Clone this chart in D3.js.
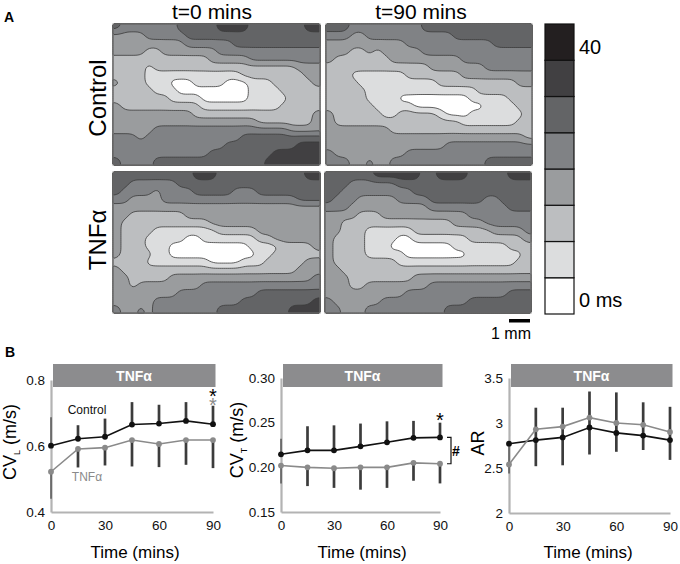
<!DOCTYPE html>
<html>
<head>
<meta charset="utf-8">
<script src="https://cdn.jsdelivr.net/npm/d3@7"></script>
<style>
  body { margin: 0; background: #fff; }
  text { font-family: "Liberation Sans", Arial, sans-serif; }
</style>
</head>
<body>
<div id="chart"></div>
<script>
// activation maps: each digit is the 5 ms band of one electrode (0 = 0-5 ms ... 7 = 35-40 ms)
const mapControl0 = [
  "54444444555556666555555566",
  "33334444455555555555555555",
  "33333333344444455555555555",
  "33332233333334444444444444",
  "22222222222233333444444444",
  "22221222222222222222222333",
  "22221111111111112222222233",
  "32221110001111000111222223",
  "22222111000000000111122222",
  "22222221111000000111112222",
  "32222222222111111111122222",
  "33333333332222222222222223",
  "33333333333333333322222223",
  "33333444444444444444443333",
  "44434444444444445555555555",
  "44444444444444555555555666",
  "44444444444455555555666666",
  "54444555555555555556666666"
];
const mapControl90 = [
  "55544444444455555555555555",
  "44433444444444445555555555",
  "33333333334444444444455555",
  "33322323333344444444444444",
  "32222222333333333444444444",
  "22222222222223333333444444",
  "22211111112222222333333333",
  "22221111111111222222222233",
  "22222111111111111112222222",
  "22222111100000000011111222",
  "22222211111000000000111122",
  "32222221122222100011111112",
  "32222222222222222111111122",
  "33333333222222222222222222",
  "33333333333333333333333332",
  "33333333333333344444444444",
  "43333333334444444444444444",
  "44433433444444444444555555"
];
const mapTnf0 = [
  "55555555556665555555555566",
  "55444444555555555555555555",
  "54444344445555544455555555",
  "44333344444444444444444555",
  "33333333333333333333333333",
  "33222222233333333333333333",
  "32222222222233333333333333",
  "32222111111112222233333333",
  "32221111100111111122333333",
  "32221110000000000111122223",
  "32222110000000000011222222",
  "22221111111100001112222233",
  "32222222222222222222222333",
  "33222223333333333333333334",
  "33233333333444444444444444",
  "33333333444444444455555555",
  "33333444444444445555555556",
  "43343444444445555555556666"
];
const mapTnf90 = [
  "55555566666655666655555666",
  "55544444455555555555555555",
  "55444444444555555555555555",
  "54443333344445555555445555",
  "44433333333334444444444555",
  "33332223333333333344444444",
  "33222222222222223333444444",
  "33222111111222222222233334",
  "32222111100111111122222223",
  "32222111000000001111111222",
  "32222111110000000011111112",
  "32222222211111111111111122",
  "33222222222222222222222222",
  "33322222222333333333333333",
  "33322333333334444444444444",
  "33333333334444444444444555",
  "43333334444444444455555555",
  "44333444444444455555555555"
];
const bandColors = ["#ffffff", "#dcddde", "#bcbec0", "#9a9c9e", "#808285", "#636466", "#414042", "#231f20"];
const bandStart = [0, 5, 10, 15, 20, 25, 30, 35];

// conduction velocity time courses
const minutes = [0, 15, 30, 45, 60, 75, 90];

const cvlControl = [0.601, 0.622, 0.628, 0.665, 0.668, 0.676, 0.666];
const cvlTnf = [0.522, 0.591, 0.595, 0.618, 0.606, 0.618, 0.618];
const cvlHigh = [0.687, 0.663, 0.683, 0.733, 0.725, 0.733, 0.722];
const cvlLow = [0.44, 0.535, 0.541, 0.538, 0.536, 0.543, 0.533];

const cvtControl = [0.2146, 0.219, 0.219, 0.2235, 0.228, 0.233, 0.2335];
const cvtTnf = [0.202, 0.2, 0.199, 0.2, 0.2, 0.205, 0.204];
const cvtHigh = [0.232, 0.246, 0.247, 0.249, 0.2515, 0.252, 0.25];
const cvtLow = [0.182, 0.179, 0.177, 0.175, 0.177, 0.185, 0.182];

const arControl = [2.77, 2.81, 2.84, 2.95, 2.89, 2.86, 2.81];
const arTnf = [2.54, 2.93, 2.96, 3.06, 3.0, 2.98, 2.9];
const arHigh = [2.77, 3.17, 3.17, 3.35, 3.34, 3.23, 3.18];
const arLow = [2.44, 2.52, 2.53, 2.65, 2.68, 2.7, 2.59];

const xTicks = [0, 30, 60, 90];
const cvlTicks = [0.4, 0.6, 0.8];
const cvtTicks = [0.15, 0.2, 0.25, 0.3];
const arTicks = [2, 2.5, 3, 3.5];

const svg = d3.select("#chart")
  .append("svg")
    .attr("width", 680)
    .attr("height", 564);

// --- panel A ---
function drawMap(rows, left, top, width, height) {
  // resample each electrode to a 4x4 patch and blur so the isochrones run diagonally
  const k = 4;
  const nx = rows[0].length * k, ny = rows.length * k;
  const values = new Float64Array(nx * ny);
  for (let j = 0; j < ny; j++) {
    for (let i = 0; i < nx; i++) {
      values[j * nx + i] = bandStart[+rows[Math.floor(j / k)][Math.floor(i / k)]] + 2.5;
    }
  }
  d3.blur2({data: values, width: nx, height: ny}, 1.5);

  const sx = d3.scaleLinear().domain([0, nx]).range([0, width]);
  const sy = d3.scaleLinear().domain([0, ny]).range([0, height]);
  const path = d3.geoPath(d3.geoTransform({
    point: function(x, y) { this.stream.point(sx(x), sy(y)); }
  }));
  const contours = d3.contours().size([nx, ny]).thresholds(bandStart.slice(1))(values);

  const g = svg.append("g").attr("transform", `translate(${left},${top})`);
  g.append("rect").attr("width", width).attr("height", height).attr("fill", bandColors[0]);
  g.selectAll("path")
    .data(contours)
    .join("path")
      .attr("d", path)
      .attr("fill", (d, i) => bandColors[i + 1])
      .attr("stroke", "#3a3a3a")
      .attr("stroke-width", 0.8)
      .attr("stroke-linejoin", "round");
  g.append("rect")
    .attr("width", width).attr("height", height)
    .attr("fill", "none").attr("stroke", "#777").attr("stroke-width", 1);
}

drawMap(mapControl0, 113, 24, 207, 141);
drawMap(mapControl90, 326, 24, 206, 141);
drawMap(mapTnf0, 113, 172, 207, 141);
drawMap(mapTnf90, 325, 172, 206, 141);

svg.append("text").attr("x", 212).attr("y", 19).attr("text-anchor", "middle").attr("font-size", 21).text("t=0 mins");
svg.append("text").attr("x", 421).attr("y", 19).attr("text-anchor", "middle").attr("font-size", 21).text("t=90 mins");
svg.append("text").attr("transform", "translate(106,98)rotate(-90)").attr("text-anchor", "middle").attr("font-size", 24).text("Control");
svg.append("text").attr("transform", "translate(106,240)rotate(-90)").attr("text-anchor", "middle").attr("font-size", 24).text("TNFα");
svg.append("text").attr("x", 4).attr("y", 22).attr("font-size", 14).attr("font-weight", "bold").text("A");
svg.append("text").attr("x", 5).attr("y", 357).attr("font-size", 14).attr("font-weight", "bold").text("B");

// colour key, darkest cell on top
const keyY = d3.scaleBand().domain(d3.range(8).reverse()).range([24, 314]);
svg.append("g").selectAll("rect")
  .data(d3.range(8))
  .join("rect")
    .attr("x", 545)
    .attr("y", d => keyY(d))
    .attr("width", 29)
    .attr("height", keyY.bandwidth())
    .attr("fill", d => bandColors[d])
    .attr("stroke", "#111")
    .attr("stroke-width", 1.2);
svg.append("text").attr("x", 579).attr("y", 54).attr("font-size", 20).text("40");
svg.append("text").attr("x", 579).attr("y", 307).attr("font-size", 20).text("0 ms");

// scale bar
svg.append("rect").attr("x", 509).attr("y", 319).attr("width", 21).attr("height", 3.5).attr("fill", "#000");
svg.append("text").attr("x", 511).attr("y", 339).attr("text-anchor", "middle").attr("font-size", 16).text("1 mm");

// --- panel B ---
function drawCourse(opt) {
  const x = d3.scaleLinear().domain([0, 90]).range(opt.xRange);
  const y = d3.scaleLinear().domain(opt.yDomain).range(opt.yRange);
  const g = svg.append("g");

  // TNF bar
  g.append("rect")
    .attr("x", opt.xRange[0] + 2).attr("y", 364)
    .attr("width", opt.xRange[1] - opt.xRange[0] + 0.5).attr("height", 23)
    .attr("fill", "#8c8c8e");
  g.append("text")
    .attr("x", (opt.xRange[0] + opt.xRange[1]) / 2 + 2).attr("y", 381)
    .attr("text-anchor", "middle").attr("font-size", 14).attr("font-weight", "bold")
    .attr("fill", "#fff").text("TNFα");

  // axes
  const axisBase = opt.yRange[0];
  const ax = g.append("g")
    .attr("transform", `translate(0,${axisBase})`)
    .call(d3.axisBottom(x).tickValues(xTicks).tickSize(0).tickPadding(8).tickFormat(d3.format("d")));
  const ay = g.append("g")
    .attr("transform", `translate(${opt.xRange[0]},0)`)
    .call(d3.axisLeft(y).tickValues(opt.yTicks).tickSize(0).tickPadding(6).tickFormat(opt.yFormat));
  [ax, ay].forEach(a => {
    a.select(".domain").attr("stroke", "#b3b3b3").attr("stroke-width", 2.2);
    a.selectAll("text").attr("font-size", 13.5).attr("font-family", "Liberation Sans").attr("fill", "#111");
  });

  // error bars: upper half from one mean, lower half from the other, thin at t=0
  const barWidth = d => d === 0 ? 1.2 : 2.7;
  g.selectAll(".up").data(minutes).join("line").attr("class", "up")
    .attr("x1", d => x(d)).attr("x2", d => x(d))
    .attr("y1", (d, i) => y(opt.upFrom[i])).attr("y2", (d, i) => y(opt.high[i]))
    .attr("stroke", "#3c3c3c").attr("stroke-width", barWidth);
  g.selectAll(".down").data(minutes).join("line").attr("class", "down")
    .attr("x1", d => x(d)).attr("x2", d => x(d))
    .attr("y1", (d, i) => y(opt.downFrom[i])).attr("y2", (d, i) => y(opt.low[i]))
    .attr("stroke", "#3c3c3c").attr("stroke-width", barWidth);

  // series
  const line = d3.line().x(d => x(d[0])).y(d => y(d[1]));
  const series = opt.order.map(s => s === "control"
    ? {vals: opt.control, color: "#111"}
    : {vals: opt.tnf, color: "#8a8a8a"});
  series.forEach(s => {
    const pts = d3.zip(minutes, s.vals);
    g.append("path").datum(pts).attr("d", line)
      .attr("fill", "none").attr("stroke", s.color).attr("stroke-width", 1.6);
    g.selectAll(null).data(pts).join("circle")
      .attr("cx", d => x(d[0])).attr("cy", d => y(d[1])).attr("r", 2.9)
      .attr("fill", s.color);
  });

  // labels
  g.append("text")
    .attr("x", opt.timeX).attr("y", 558)
    .attr("text-anchor", "middle").attr("font-size", 17).text("Time (mins)");
  const yl = g.append("text")
    .attr("transform", `translate(${opt.labelX},${opt.labelY})rotate(-90)`)
    .attr("text-anchor", "middle").attr("font-size", 18);
  if (opt.sub) {
    yl.append("tspan").text("CV");
    yl.append("tspan").attr("font-size", 9).attr("dy", 4).text(opt.sub);
    yl.append("tspan").attr("dy", -4).text(" (m/s)");
  } else {
    yl.text("AR");
  }
  return {x, y};
}

const c1 = drawCourse({
  xRange: [51, 213], yDomain: [0.4, 0.8], yRange: [512, 380],
  yTicks: cvlTicks, yFormat: d3.format(".1f"),
  control: cvlControl, tnf: cvlTnf, high: cvlHigh, low: cvlLow,
  upFrom: cvlControl, downFrom: cvlTnf, order: ["tnf", "control"],
  timeX: 135, labelX: 16, labelY: 442, sub: "L"
});
const c2 = drawCourse({
  xRange: [281, 440], yDomain: [0.15, 0.3], yRange: [512, 378],
  yTicks: cvtTicks, yFormat: d3.format(".2f"),
  control: cvtControl, tnf: cvtTnf, high: cvtHigh, low: cvtLow,
  upFrom: cvtControl, downFrom: cvtTnf, order: ["tnf", "control"],
  timeX: 362, labelX: 243, labelY: 440, sub: "T"
});
const c3 = drawCourse({
  xRange: [509, 670], yDomain: [2, 3.5], yRange: [513, 378],
  yTicks: arTicks, yFormat: d => String(d),
  control: arControl, tnf: arTnf, high: arHigh, low: arLow,
  upFrom: arTnf, downFrom: arTnf, order: ["control", "tnf"],
  timeX: 588, labelX: 484, labelY: 443, sub: null
});

// annotations
svg.append("text").attr("x", 87).attr("y", 414).attr("text-anchor", "middle").attr("font-size", 12).attr("fill", "#111").text("Control");
svg.append("text").attr("x", 87).attr("y", 481).attr("text-anchor", "middle").attr("font-size", 12).attr("fill", "#8a8a8a").text("TNFα");
const stars = svg.append("text").attr("text-anchor", "middle").attr("font-size", 20);
stars.append("tspan").attr("x", 213).attr("y", 403).attr("fill", "#000").text("*");
stars.append("tspan").attr("x", 213).attr("y", 412).attr("fill", "#8a8a8a").text("*");
svg.append("text").attr("x", 440).attr("y", 427).attr("text-anchor", "middle").attr("font-size", 20).attr("fill", "#000").text("*");
svg.append("path")
  .attr("d", d3.line()([[447, c2.y(cvtControl[6])], [451, c2.y(cvtControl[6])], [451, c2.y(cvtTnf[6])], [447, c2.y(cvtTnf[6])]]))
  .attr("fill", "none").attr("stroke", "#111").attr("stroke-width", 1.2);
svg.append("text").attr("x", 456).attr("y", 456).attr("text-anchor", "middle").attr("font-size", 14).attr("font-weight", "bold").text("#");
</script>
</body>
</html>
